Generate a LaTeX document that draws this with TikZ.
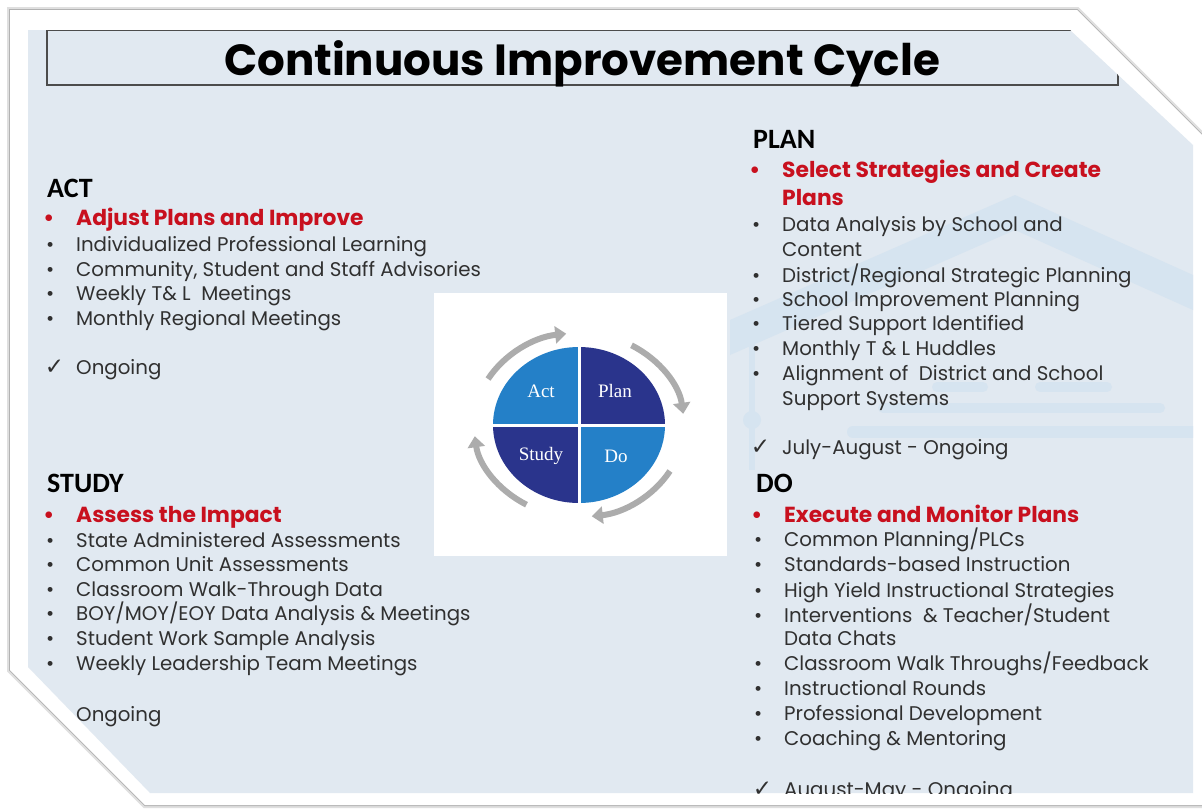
\documentclass[tikz,border=0pt]{standalone}
\usepackage{fontspec}
\setmainfont{Poppins}
\newfontfamily\headfont{Carlito}
\newfontfamily\labelfont{Liberation Serif}
\newfontfamily\symfont{DejaVu Sans}
\usetikzlibrary{arrows.meta}

\definecolor{panelblue}{RGB}{225,233,241}
\definecolor{markblue}{RGB}{214,228,240}
\definecolor{txtgray}{RGB}{48,48,48}
\definecolor{redtxt}{RGB}{200,16,30}
\definecolor{lightq}{RGB}{36,128,200}
\definecolor{darkq}{RGB}{42,52,140}
\definecolor{arcgray}{RGB}{172,172,172}

\newcommand{\bul}{\makebox[0pt][r]{\textbullet\hspace{22pt}}}
\newcommand{\chk}{\makebox[0pt][r]{{\symfont\fontsize{23}{24}\selectfont ✓}\hspace{12pt}}}

\begin{document}
\begin{tikzpicture}[x=1pt, y=1pt,
	item/.style = {anchor=base west, inner sep=0pt, text=txtgray, font=\fontsize{19.8}{22}\selectfont},
	keyitem/.style = {item, text=redtxt, font=\fontsize{21.8}{24}\selectfont\bfseries},
	head/.style = {anchor=base west, inner sep=0pt, font=\headfont\bfseries\fontsize{28}{30}\selectfont},
	quad/.style = {text=white, font=\labelfont\fontsize{19}{22}\selectfont},
	cyclearrow/.style = {arcgray, line width=6pt, -{Triangle[width=17pt,length=11pt]}},]
		\useasboundingbox (0,0) rectangle (1202,-809);
		\fill[white] (0,0) rectangle (1202,-809);
		
		% card and its shadow
		\draw[gray!25, line width=6pt] (10,-10) -- (1077,-10) -- (1215,-148) -- (1215,-805) -- (145,-805) -- (10,-670) -- cycle;
		\draw[gray!60, line width=2pt] (10,-10) -- (1077,-10) -- (1215,-148) -- (1215,-805) -- (145,-805) -- (10,-670) -- cycle;
		\fill[white] (10,-10) -- (1077,-10) -- (1215,-148) -- (1215,-805) -- (145,-805) -- (10,-670) -- cycle;
		\fill[panelblue] (28,-30) -- (1070,-30) -- (1193,-145) -- (1193,-793) -- (150,-793) -- (28,-667) -- cycle;
		
		\begin{scope}
		\clip (28,-30) -- (1070,-30) -- (1193,-145) -- (1193,-793) -- (150,-793) -- (28,-667) -- cycle;
		
		% faint logo behind the right column
		\fill[markblue] (1015,-195) -- (1193,-275) -- (1193,-310) -- (1015,-230) -- (730,-355) -- (730,-320) -- cycle;
		\draw[markblue, line width=6pt] (752,-330) -- (752,-470);
		\fill[markblue] (752,-420) circle (9);
		\draw[markblue, line width=10pt, line cap=round] (937,-387) -- (983,-387);
		\draw[markblue, line width=10pt, line cap=round] (1040,-387) -- (1107,-387);
		\draw[markblue, line width=10pt, line cap=round] (883,-408) -- (1160,-408);
		\draw[markblue, line width=12pt, line cap=round] (853,-432) -- (1200,-432);
		
		% title
		\draw[black!70, line width=1.2pt] (47,-30) rectangle (1118,-85);
		\node[font=\bfseries\fontsize{43.6}{48}\selectfont] (title) at (582,-64) {Continuous Improvement Cycle};
		
		% ACT
		\node[head] (act) at (47,-197) {ACT};
		\node[keyitem] (act0) at (76,-225) {\bul Adjust Plans and Improve};
		\node[item] (act1) at (76,-251) {\bul Individualized Professional Learning};
		\node[item] (act2) at (76,-276) {\bul Community, Student and Staff Advisories};
		\node[item] (act3) at (76,-300) {\bul Weekly T\& L\ \ Meetings};
		\node[item] (act4) at (76,-325) {\bul Monthly Regional Meetings};
		\node[item] (act5) at (76,-374) {\chk Ongoing};
		
		% STUDY
		\node[head] (study) at (47,-492) {STUDY};
		\node[keyitem] (study0) at (76,-522) {\bul Assess the Impact};
		\node[item] (study1) at (76,-547) {\bul State Administered Assessments};
		\node[item] (study2) at (76,-571) {\bul Common Unit Assessments};
		\node[item] (study3) at (76,-596) {\bul Classroom Walk-Through Data};
		\node[item] (study4) at (76,-620) {\bul BOY/MOY/EOY Data Analysis \& Meetings};
		\node[item] (study5) at (76,-645) {\bul Student Work Sample Analysis};
		\node[item] (study6) at (76,-670) {\bul Weekly Leadership Team Meetings};
		\node[item] (study7) at (76,-721) {Ongoing};
		
		% PLAN
		\node[head] (plan) at (753,-148) {PLAN};
		\node[keyitem] (plan0) at (782,-177) {\bul Select Strategies and Create};
		\node[keyitem] (plan0b) at (782,-205) {Plans};
		\node[item] (plan1) at (782,-231) {\bul Data Analysis by School and};
		\node[item] (plan1b) at (782,-256) {Content};
		\node[item] (plan2) at (782,-282) {\bul District/Regional Strategic Planning};
		\node[item] (plan3) at (782,-306) {\bul School Improvement Planning};
		\node[item] (plan4) at (782,-330) {\bul Tiered Support Identified};
		\node[item] (plan5) at (782,-355) {\bul Monthly T \& L Huddles};
		\node[item] (plan6) at (782,-380) {\bul Alignment of\ \ District and School};
		\node[item] (plan6b) at (782,-405) {Support Systems};
		\node[item] (plan7) at (782,-454) {\chk July-August - Ongoing};
		
		% DO
		\node[head] (do) at (756,-492) {DO};
		\node[keyitem] (do0) at (784,-522) {\bul Execute and Monitor Plans};
		\node[item] (do1) at (784,-546) {\bul Common Planning/PLCs};
		\node[item] (do2) at (784,-571) {\bul Standards-based Instruction};
		\node[item] (do3) at (784,-597) {\bul High Yield Instructional Strategies};
		\node[item] (do4) at (784,-622) {\bul Interventions\ \ \& Teacher/Student};
		\node[item] (do4b) at (784,-645) {Data Chats};
		\node[item] (do5) at (784,-670) {\bul Classroom Walk Throughs/Feedback};
		\node[item] (do6) at (784,-695) {\bul Instructional Rounds};
		\node[item] (do7) at (784,-720) {\bul Professional Development};
		\node[item] (do8) at (784,-745) {\bul Coaching \& Mentoring};
		\node[item] (do9) at (784,-796) {\chk August-May - Ongoing};
		\end{scope}
		
		% cycle picture
		\fill[white] (434,-293) rectangle (727,-556);
		\coordinate (C) at (579,-425);
		\fill[lightq] (C) -- ++(-86,0) arc[start angle=180, end angle=90, x radius=86, y radius=78] -- cycle;
		\fill[darkq] (C) -- ++(0,78) arc[start angle=90, end angle=0, x radius=86, y radius=78] -- cycle;
		\fill[lightq] (C) -- ++(86,0) arc[start angle=0, end angle=-90, x radius=86, y radius=78] -- cycle;
		\fill[darkq] (C) -- ++(0,-78) arc[start angle=270, end angle=180, x radius=86, y radius=78] -- cycle;
		\draw[white, line width=3pt] (492,-425) -- (666,-425);
		\draw[white, line width=3pt] (579,-346) -- (579,-504);
		\node[quad] (Act) at (541,-391) {Act};
		\node[quad] (Plan) at (615,-391) {Plan};
		\node[quad] (Study) at (541,-456) {Study};
		\node[quad] (Do) at (616,-456) {Do};
		
		\path (C) ++(150:105 and 92) coordinate (s1);
		\path (C) ++(60:105 and 92) coordinate (s2);
		\path (C) ++(-30:105 and 92) coordinate (s3);
		\path (C) ++(-120:105 and 92) coordinate (s4);
		\draw[cyclearrow] (s1) arc[start angle=150, end angle=97, x radius=105, y radius=92];
		\draw[cyclearrow] (s2) arc[start angle=60, end angle=7, x radius=105, y radius=92];
		\draw[cyclearrow] (s3) arc[start angle=-30, end angle=-83, x radius=105, y radius=92];
		\draw[cyclearrow] (s4) arc[start angle=-120, end angle=-173, x radius=105, y radius=92];
	\end{tikzpicture}
\end{document}
